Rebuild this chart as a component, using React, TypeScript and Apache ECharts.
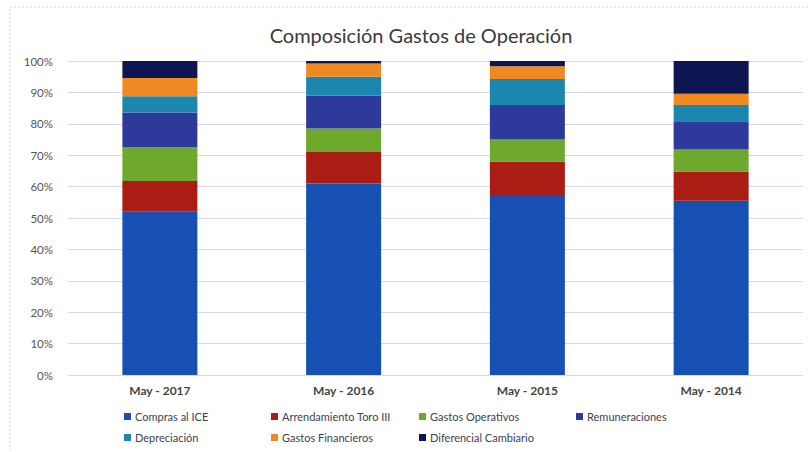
import React, { useEffect, useRef } from "react";
import * as echarts from "echarts";

const categories = ["May - 2017", "May - 2016", "May - 2015", "May - 2014"];
const seriesNames = [
  "Compras al ICE",
  "Arrendamiento Toro III",
  "Gastos Operativos",
  "Remuneraciones",
  "Depreciación",
  "Gastos Financieros",
  "Diferencial Cambiario",
];
const comprasICE = [52, 61, 57, 55.5];
const arrendamiento = [9.8, 10, 11, 9.3];
const gastosOperativos = [10.8, 7.5, 7, 7];
const remuneraciones = [11, 10.5, 11, 9];
const depreciacion = [5.2, 6, 8.3, 5.2];
const gastosFinancieros = [5.8, 4.2, 4, 3.6];
const diferencialCambiario = [5.4, 0.8, 1.7, 10.4];
const yTicks = [0, 10, 20, 30, 40, 50, 60, 70, 80, 90, 100];

const seriesData = [
  comprasICE,
  arrendamiento,
  gastosOperativos,
  remuneraciones,
  depreciacion,
  gastosFinancieros,
  diferencialCambiario,
];
const colors = ["#1550B2", "#A91D14", "#6EA82C", "#2D3A9C", "#1B87AE", "#EF8A22", "#0D1652"];
const legendPos = [
  [124, 411],
  [271, 411],
  [419, 411],
  [576, 411],
  [124, 432],
  [271, 432],
  [419, 432],
];

export default function App() {
  const ref = useRef<HTMLDivElement>(null);
  useEffect(() => {
    if (!ref.current) return;
    const chart = echarts.init(ref.current, null, { renderer: "svg" });
    const font = "Lato, 'Open Sans', sans-serif";
    chart.setOption({
      animation: false,
      backgroundColor: "#ffffff",
      textStyle: { fontFamily: font },
      title: {
        text: "Composición Gastos de Operación",
        left: 416,
        textAlign: "center",
        top: 20,
        textStyle: { fontSize: 20, fontWeight: "normal", color: "#3a3a3a", fontFamily: font },
      },
      legend: seriesNames.map((n, i) => ({
        data: [n],
        left: legendPos[i][0],
        top: legendPos[i][1],
        itemWidth: 7,
        itemHeight: 7,
        itemGap: 4,
        icon: "rect",
        padding: 0,
        textStyle: { fontSize: 11, color: "#3d4252", fontFamily: font, padding: [0, 0, 0, -1] },
      })),
      grid: { left: 68, right: 5, top: 61, bottom: 77 },
      xAxis: {
        type: "category",
        data: categories,
        axisLine: { show: false },
        axisTick: { show: false },
        axisLabel: { fontSize: 12, fontWeight: "bold", color: "#444444", margin: 9, fontFamily: font },
      },
      yAxis: {
        type: "value",
        min: 0,
        max: 100,
        interval: 10,
        axisLine: { show: false },
        axisTick: { show: false },
        axisLabel: {
          formatter: (v: number) => (yTicks.includes(v) ? v + "%" : ""),
          fontSize: 11.5,
          color: "#555555",
          margin: 15,
          fontFamily: font,
        },
        splitLine: { lineStyle: { color: "#d3d9e8", width: 1 } },
      },
      series: seriesNames.map((n, i) => ({
        name: n,
        type: "bar",
        stack: "total",
        barWidth: 75,
        data: seriesData[i],
        itemStyle: { color: colors[i] },
      })),
      color: colors,
      graphic: [
        {
          type: "rect",
          shape: { x: 10, y: 7, width: 820, height: 470 },
          style: { fill: "none", stroke: "#c9d1e3", lineWidth: 1, lineDash: [2, 2] },
          silent: true,
        },
      ],
    });
    return () => chart.dispose();
  }, []);
  return (
    <div
      ref={ref}
      style={{ position: "absolute", left: 0, top: 0, width: 808, height: 452 }}
    />
  );
}
